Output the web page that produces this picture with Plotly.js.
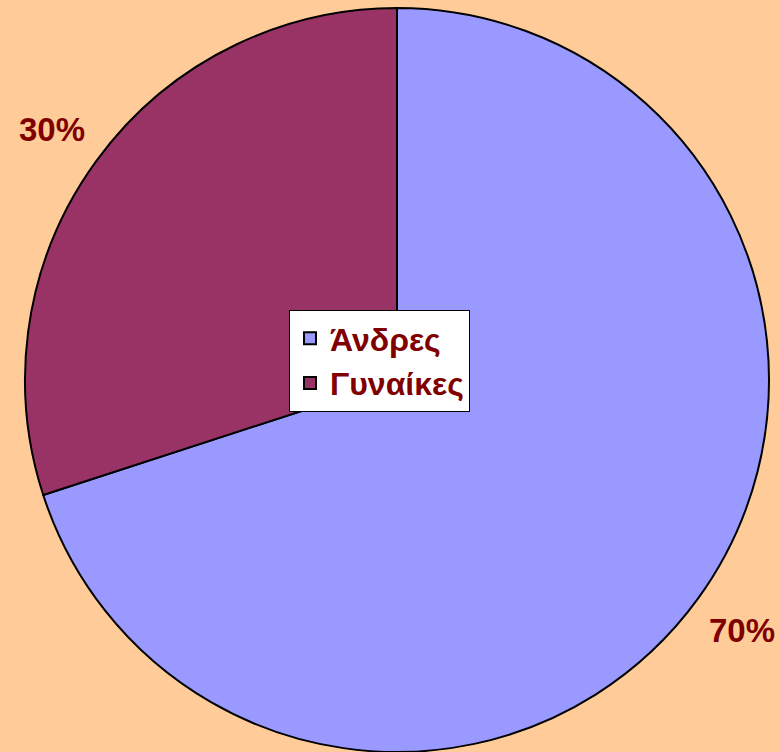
<!DOCTYPE html>
<html>
<head>
<meta charset="utf-8">
<script src="https://cdn.plot.ly/plotly-3.0.1.min.js"></script>
<style>html,body{margin:0;padding:0;background:#FFCC99;}#chart{width:780px;height:752px;}</style>
</head>
<body>
<div id="chart"></div>
<script>
const labels = ['Άνδρες', 'Γυναίκες'];
const values = [70, 30];
const sliceColors = ['#9999FF', '#993366'];

const W = 780, H = 752;
const cx = 397, cy = 380, r = 372;
const total = values.reduce((a, b) => a + b, 0);

// percentage labels placed outside each slice along its mid-angle
const annotations = [];
let cum = 0;
values.forEach((v, i) => {
  const mid = (cum + v / 2) / total * 2 * Math.PI;
  cum += v;
  const k = 1.145;
  const px = cx + k * r * Math.sin(mid);
  const py = cy - k * r * Math.cos(mid);
  annotations.push({
    x: px / W, y: 1 - py / H, xref: 'paper', yref: 'paper',
    text: Math.round(v / total * 100) + '%', showarrow: false,
    xanchor: 'center', yanchor: 'middle',
    font: {family: 'Liberation Sans, Arial, sans-serif', size: 33, color: '#800000', weight: 'bold'}
  });
});

const trace = {
  type: 'pie',
  labels: labels,
  values: values,
  sort: false,
  direction: 'clockwise',
  rotation: 0,
  textinfo: 'none',
  hoverinfo: 'none',
  marker: {colors: sliceColors, line: {color: '#000000', width: 2}},
  domain: {x: [(cx - r) / W, (cx + r) / W], y: [1 - (cy + r) / H, 1 - (cy - r) / H]}
};

const layout = {
  width: W, height: H,
  margin: {l: 0, r: 0, t: 0, b: 0},
  paper_bgcolor: '#FFCC99',
  plot_bgcolor: '#FFCC99',
  showlegend: true,
  legend: {
    x: 289 / W, y: 1 - 310 / H, xanchor: 'left', yanchor: 'top',
    bgcolor: '#FFFFFF', bordercolor: '#000000', borderwidth: 1,
    font: {family: 'Liberation Sans, Arial, sans-serif', size: 32, color: '#800000', weight: 'bold'},
    itemwidth: 30, tracegroupgap: 0
  },
  annotations: annotations
};

Plotly.newPlot('chart', [trace], layout, {displayModeBar: false, staticPlot: true});
</script>
</body>
</html>
